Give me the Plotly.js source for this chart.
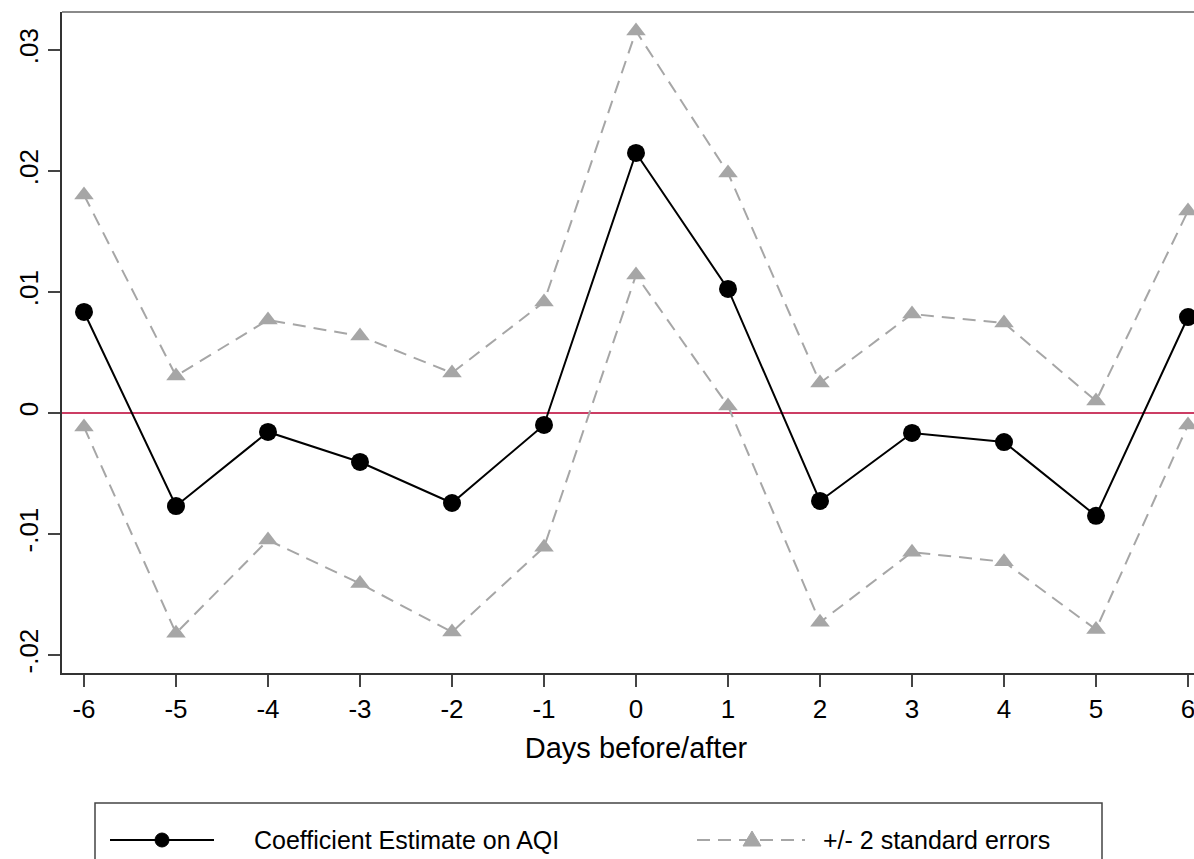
<!DOCTYPE html>
<html>
<head>
<meta charset="utf-8">
<script src="https://cdn.plot.ly/plotly-3.0.1.min.js"></script>
<style>
html, body { margin: 0; padding: 0; background: #fff; overflow: hidden; width: 1194px; height: 859px; }
#chart { width: 1220px; height: 859px; }
</style>
</head>
<body>
<div id="chart"></div>
<script>
// ---- data ----
const days = [-6, -5, -4, -3, -2, -1, 0, 1, 2, 3, 4, 5, 6];
const coefficient = [0.00835, -0.00769, -0.00157, -0.00405, -0.00744, -0.00099, 0.02149, 0.01025, -0.00727, -0.00165, -0.0024, -0.0085, 0.00793];
const upperBand = [0.01802, 0.00306, 0.00769, 0.00636, 0.00331, 0.00917, 0.03157, 0.01983, 0.00248, 0.00818, 0.00744, 0.00099, 0.0167];
const lowerBand = [-0.00116, -0.0182, -0.0105, -0.0141, -0.0181, -0.0111, 0.0114, 0.00058, -0.0173, -0.0115, -0.0123, -0.0179, -0.00099];
const yTickVals = [-0.02, -0.01, 0, 0.01, 0.02, 0.03];
const yTickText = ["-.02", "-.01", "0", ".01", ".02", ".03"];
const xTitle = "Days before/after";
const legendLabels = ["Coefficient Estimate on AQI", "+/- 2 standard errors"];

// ---- layout helpers ----
const W = 1220, H = 859;
const M = { l: 62, r: 10, t: 12, b: 186 };
const PW = W - M.l - M.r, PH = H - M.t - M.b;
const px = x => (x - M.l) / PW;
const py = y => (H - M.b - y) / PH;

const FONT = "Liberation Sans, Arial, Helvetica, sans-serif";
const grey = "#a6a6a6";

const traces = [
  {
    x: days, y: upperBand, name: legendLabels[1], mode: "lines+markers",
    line: { color: grey, width: 2, dash: "13px,8px" },
    marker: { symbol: "triangle-up", size: 17, color: grey },
    cliponaxis: false, showlegend: false, hoverinfo: "x+y"
  },
  {
    x: days, y: lowerBand, name: legendLabels[1], mode: "lines+markers",
    line: { color: grey, width: 2, dash: "13px,8px" },
    marker: { symbol: "triangle-up", size: 17, color: grey },
    cliponaxis: false, showlegend: false, hoverinfo: "x+y"
  },
  {
    x: days, y: coefficient, name: legendLabels[0], mode: "lines+markers",
    line: { color: "#000", width: 2 },
    marker: { symbol: "circle", size: 18, color: "#000" },
    cliponaxis: false, showlegend: false, hoverinfo: "x+y"
  }
];

const legY = py(840);
const shapes = [
  // top frame line
  { type: "line", xref: "paper", yref: "paper", x0: 0, x1: 1, y0: 1, y1: 1, line: { color: "#8a8a8a", width: 2 } },
  // legend box
  { type: "rect", xref: "paper", yref: "paper", x0: px(95), x1: px(1102), y0: py(803), y1: py(900), line: { color: "#444", width: 1.5 }, fillcolor: "rgba(0,0,0,0)" },
  // legend sample 1
  { type: "line", xref: "paper", yref: "paper", x0: px(110), x1: px(214), y0: legY, y1: legY, line: { color: "#000", width: 2 } },
  { type: "circle", xref: "paper", yref: "paper", xsizemode: "pixel", ysizemode: "pixel", xanchor: px(162), yanchor: legY, x0: -7, x1: 7, y0: -7, y1: 7, fillcolor: "#000", line: { color: "#000", width: 1 } },
  // legend sample 2
  { type: "line", xref: "paper", yref: "paper", x0: px(697), x1: px(805), y0: legY, y1: legY, line: { color: grey, width: 2, dash: "13px,8px" } },
  { type: "path", xref: "paper", yref: "paper", xsizemode: "pixel", ysizemode: "pixel", xanchor: px(752), yanchor: legY, path: "M -9,-6 L 9,-6 L 0,9 Z", fillcolor: grey, line: { color: grey, width: 1 } }
];

const annotations = [
  { xref: "paper", yref: "paper", x: px(252), y: legY, xanchor: "left", yanchor: "middle", text: legendLabels[0], showarrow: false, font: { family: FONT, size: 25, color: "#000" } },
  { xref: "paper", yref: "paper", x: px(821), y: legY, xanchor: "left", yanchor: "middle", text: legendLabels[1], showarrow: false, font: { family: FONT, size: 25, color: "#000" } }
];

const layout = {
  width: W, height: H,
  margin: M,
  paper_bgcolor: "#fff", plot_bgcolor: "#fff",
  font: { family: FONT, color: "#000" },
  showlegend: false,
  xaxis: {
    range: [-6.239, 6.239],
    tickvals: days, ticktext: days.map(String),
    ticks: "outside", ticklen: 12, tickwidth: 2, tickcolor: "#444",
    showline: true, linecolor: "#333", linewidth: 2,
    showgrid: false, zeroline: false,
    tickfont: { family: FONT, size: 26, color: "#000" },
    title: { text: xTitle, font: { family: FONT, size: 29, color: "#000" }, standoff: 14 }
  },
  yaxis: {
    range: [-0.02149, 0.03314],
    tickvals: yTickVals, ticktext: yTickText, tickangle: -90,
    ticks: "outside", ticklen: 12, tickwidth: 2, tickcolor: "#444",
    showline: true, linecolor: "#333", linewidth: 2,
    showgrid: false,
    zeroline: true, zerolinecolor: "#cc3d64", zerolinewidth: 2,
    tickfont: { family: FONT, size: 26, color: "#000" }
  },
  shapes: shapes,
  annotations: annotations
};

Plotly.newPlot("chart", traces, layout, { displayModeBar: false, staticPlot: true });
</script>
</body>
</html>
